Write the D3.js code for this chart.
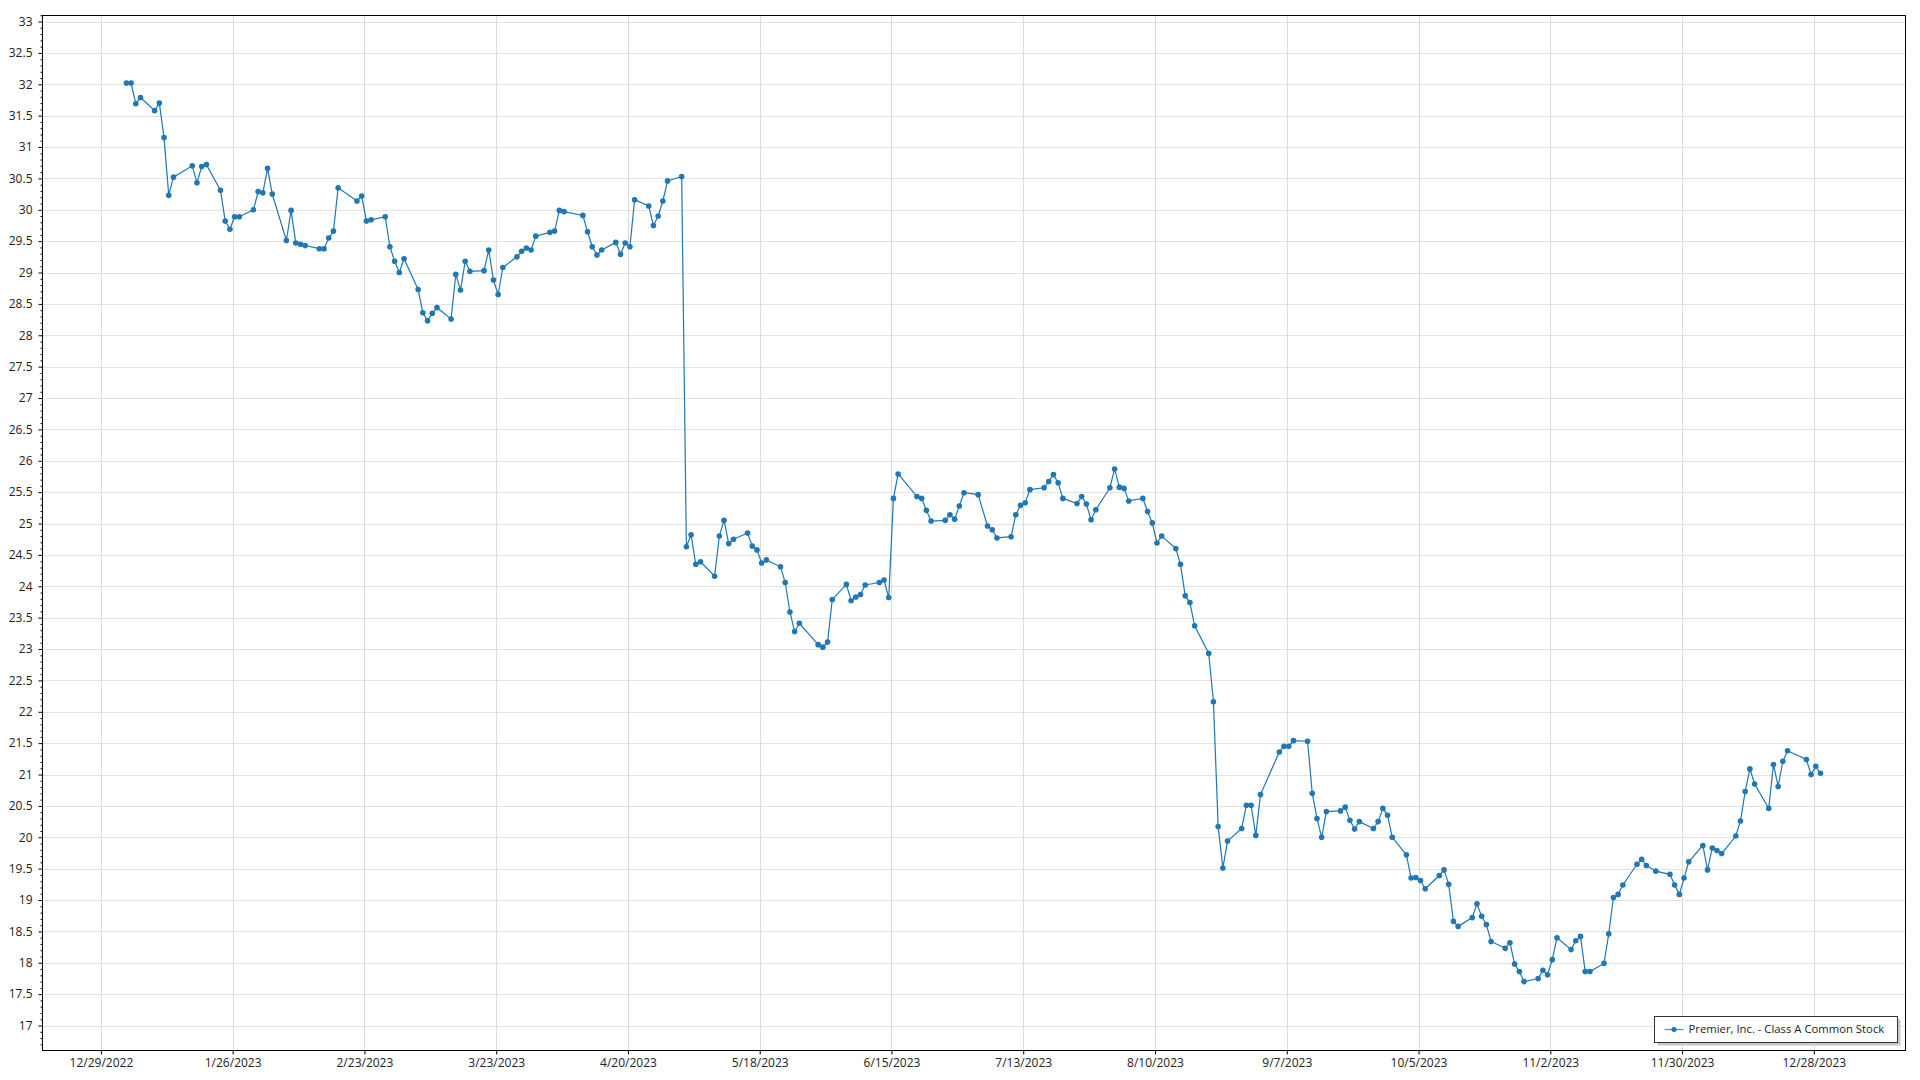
<!DOCTYPE html>
<html>
<head>
<meta charset="utf-8">
<script src="https://cdn.jsdelivr.net/npm/d3@7"></script>
<style>
  html, body { margin: 0; padding: 0; background: #fff; }
  svg { display: block; }
  text { font-family: "Segoe UI", "Open Sans", "Noto Sans", sans-serif; fill: #222; }
</style>
</head>
<body>
<svg id="chart" width="1920" height="1080"></svg>
<script>
// ---- Data ----
const seriesName = "Premier, Inc. - Class A Common Stock";

const dates = [
  "2023-01-03","2023-01-04","2023-01-05","2023-01-06","2023-01-09","2023-01-10","2023-01-11","2023-01-12","2023-01-13",
  "2023-01-17","2023-01-18","2023-01-19","2023-01-20","2023-01-23","2023-01-24","2023-01-25","2023-01-26","2023-01-27",
  "2023-01-30","2023-01-31","2023-02-01","2023-02-02","2023-02-03","2023-02-06","2023-02-07","2023-02-08","2023-02-09",
  "2023-02-10","2023-02-13","2023-02-14","2023-02-15","2023-02-16","2023-02-17","2023-02-21","2023-02-22","2023-02-23",
  "2023-02-24","2023-02-27","2023-02-28","2023-03-01","2023-03-02","2023-03-03","2023-03-06","2023-03-07","2023-03-08",
  "2023-03-09","2023-03-10","2023-03-13","2023-03-14","2023-03-15","2023-03-16","2023-03-17","2023-03-20","2023-03-21",
  "2023-03-22","2023-03-23","2023-03-24","2023-03-27","2023-03-28","2023-03-29","2023-03-30","2023-03-31","2023-04-03",
  "2023-04-04","2023-04-05","2023-04-06","2023-04-10","2023-04-11","2023-04-12","2023-04-13","2023-04-14","2023-04-17",
  "2023-04-18","2023-04-19","2023-04-20","2023-04-21","2023-04-24","2023-04-25","2023-04-26","2023-04-27","2023-04-28",
  "2023-05-01","2023-05-02","2023-05-03","2023-05-04","2023-05-05","2023-05-08","2023-05-09","2023-05-10","2023-05-11",
  "2023-05-12","2023-05-15","2023-05-16","2023-05-17","2023-05-18","2023-05-19","2023-05-22","2023-05-23","2023-05-24",
  "2023-05-25","2023-05-26","2023-05-30","2023-05-31","2023-06-01","2023-06-02","2023-06-05","2023-06-06","2023-06-07",
  "2023-06-08","2023-06-09","2023-06-12","2023-06-13","2023-06-14","2023-06-15","2023-06-16","2023-06-20","2023-06-21",
  "2023-06-22","2023-06-23","2023-06-26","2023-06-27","2023-06-28","2023-06-29","2023-06-30","2023-07-03","2023-07-05",
  "2023-07-06","2023-07-07","2023-07-10","2023-07-11","2023-07-12","2023-07-13","2023-07-14","2023-07-17","2023-07-18",
  "2023-07-19","2023-07-20","2023-07-21","2023-07-24","2023-07-25","2023-07-26","2023-07-27","2023-07-28","2023-07-31",
  "2023-08-01","2023-08-02","2023-08-03","2023-08-04","2023-08-07","2023-08-08","2023-08-09","2023-08-10","2023-08-11",
  "2023-08-14","2023-08-15","2023-08-16","2023-08-17","2023-08-18","2023-08-21","2023-08-22","2023-08-23","2023-08-24",
  "2023-08-25","2023-08-28","2023-08-29","2023-08-30","2023-08-31","2023-09-01","2023-09-05","2023-09-06","2023-09-07",
  "2023-09-08","2023-09-11","2023-09-12","2023-09-13","2023-09-14","2023-09-15","2023-09-18","2023-09-19","2023-09-20",
  "2023-09-21","2023-09-22","2023-09-25","2023-09-26","2023-09-27","2023-09-28","2023-09-29","2023-10-02","2023-10-03",
  "2023-10-04","2023-10-05","2023-10-06","2023-10-09","2023-10-10","2023-10-11","2023-10-12","2023-10-13","2023-10-16",
  "2023-10-17","2023-10-18","2023-10-19","2023-10-20","2023-10-23","2023-10-24","2023-10-25","2023-10-26","2023-10-27",
  "2023-10-30","2023-10-31","2023-11-01","2023-11-02","2023-11-03","2023-11-06","2023-11-07","2023-11-08","2023-11-09",
  "2023-11-10","2023-11-13","2023-11-14","2023-11-15","2023-11-16","2023-11-17","2023-11-20","2023-11-21","2023-11-22",
  "2023-11-24","2023-11-27","2023-11-28","2023-11-29","2023-11-30","2023-12-01","2023-12-04","2023-12-05","2023-12-06",
  "2023-12-07","2023-12-08","2023-12-11","2023-12-12","2023-12-13","2023-12-14","2023-12-15","2023-12-18","2023-12-19",
  "2023-12-20","2023-12-21","2023-12-22","2023-12-26","2023-12-27","2023-12-28","2023-12-29"
];

const prices = [
  32.02,32.02,31.69,31.79,31.58,31.70,31.15,30.23,30.52,
  30.70,30.43,30.69,30.72,30.31,29.82,29.69,29.89,29.89,
  30.00,30.29,30.27,30.66,30.25,29.51,29.99,29.47,29.45,
  29.43,29.38,29.38,29.55,29.66,30.35,30.14,30.22,29.82,
  29.84,29.89,29.41,29.18,29.00,29.22,28.73,28.36,28.23,
  28.35,28.44,28.26,28.97,28.72,29.18,29.02,29.03,29.36,
  28.88,28.65,29.08,29.25,29.34,29.39,29.36,29.58,29.64,
  29.66,29.99,29.97,29.91,29.65,29.41,29.28,29.36,29.48,
  29.29,29.47,29.41,30.16,30.06,29.75,29.90,30.14,30.46,
  30.53,24.63,24.82,24.35,24.39,24.16,24.80,25.05,24.68,
  24.75,24.85,24.64,24.58,24.37,24.42,24.31,24.06,23.59,
  23.28,23.41,23.07,23.03,23.11,23.79,24.03,23.77,23.83,
  23.87,24.02,24.06,24.10,23.82,25.40,25.79,25.43,25.40,
  25.21,25.04,25.05,25.14,25.07,25.28,25.49,25.46,24.96,
  24.90,24.77,24.79,25.14,25.29,25.33,25.54,25.57,25.67,
  25.78,25.65,25.40,25.32,25.43,25.31,25.06,25.22,25.57,
  25.87,25.58,25.56,25.36,25.40,25.19,25.01,24.69,24.80,
  24.60,24.35,23.85,23.74,23.37,22.93,22.16,20.17,19.51,
  19.94,20.14,20.51,20.51,20.03,20.68,21.36,21.45,21.45,
  21.54,21.53,20.70,20.30,20.00,20.41,20.42,20.48,20.27,
  20.13,20.25,20.14,20.25,20.46,20.35,20.00,19.72,19.35,
  19.36,19.31,19.18,19.39,19.48,19.25,18.66,18.58,18.72,
  18.94,18.74,18.61,18.34,18.23,18.32,17.98,17.86,17.70,
  17.75,17.88,17.81,18.05,18.40,18.21,18.35,18.42,17.86,
  17.86,17.99,18.46,19.04,19.09,19.24,19.57,19.65,19.55,
  19.46,19.41,19.24,19.09,19.35,19.61,19.87,19.48,19.83,
  19.79,19.74,20.02,20.26,20.73,21.09,20.85,20.46,21.16,
  20.81,21.21,21.38,21.24,21.00,21.13,21.02
];

const xTickDates = [
  "2022-12-29","2023-01-26","2023-02-23","2023-03-23","2023-04-20","2023-05-18","2023-06-15",
  "2023-07-13","2023-08-10","2023-09-07","2023-10-05","2023-11-02","2023-11-30","2023-12-28"
];
const yMajorTicks = d3.range(17, 33.001, 0.5).map(v => +v.toFixed(1));
const yMinorTicks = d3.range(16.7, 33.101, 0.1).map(v => +v.toFixed(1));

// ---- Layout ----
const W = 1920, H = 1080;
const plot = { left: 42.5, top: 15.5, right: 1905.5, bottom: 1050.5 };
const color = "#1f77b4";

const parse = d3.utcParse("%Y-%m-%d");
const fmt = d3.utcFormat("%-m/%-d/%Y");
const points = dates.map((d, i) => ({ date: d3.utcHour.offset(parse(d), 10), value: prices[i] }));

const origin = parse("2022-12-29");
const x = d3.scaleUtc()
  .domain([d3.utcMinute.offset(origin, Math.round(-12.41 * 1440)), d3.utcMinute.offset(origin, Math.round(383.48 * 1440))])
  .range([plot.left, plot.right]);
const y = d3.scaleLinear().domain([16.602, 33.096]).range([plot.bottom, plot.top]);

const svg = d3.select("#chart");
svg.append("rect").attr("width", W).attr("height", H).attr("fill", "#fff");

const grid = svg.append("g");
// horizontal gridlines
grid.selectAll("line.h").data(yMajorTicks).join("line")
  .attr("x1", plot.left).attr("x2", plot.right)
  .attr("y1", d => Math.round(y(d)) + 0.5).attr("y2", d => Math.round(y(d)) + 0.5)
  .attr("stroke", "#e3e3e3").attr("stroke-width", 1);
// vertical gridlines
const xTicks = xTickDates.map(parse);
grid.selectAll("line.v").data(xTicks).join("line")
  .attr("y1", plot.top).attr("y2", plot.bottom)
  .attr("x1", d => Math.round(x(d)) + 0.5).attr("x2", d => Math.round(x(d)) + 0.5)
  .attr("stroke", "#dcdcdc").attr("stroke-width", 1);

// Y axis
const yAxis = d3.axisLeft(y).tickValues(yMajorTicks).tickSize(4).tickPadding(6)
  .tickFormat(d => String(d));
const gy = svg.append("g").attr("transform", `translate(${plot.left},0)`).call(yAxis);
gy.select(".domain").remove();
gy.selectAll(".tick line").attr("stroke", "#000");
gy.selectAll(".tick text").style("font-size", "12px").attr("fill", "#222");
const yMinor = d3.axisLeft(y).tickValues(yMinorTicks.filter(v => Math.abs(v * 2 - Math.round(v * 2)) > 1e-6)).tickSize(2).tickFormat("");
const gym = svg.append("g").attr("transform", `translate(${plot.left},0)`).call(yMinor);
gym.select(".domain").remove();
gym.selectAll(".tick line").attr("stroke", "#000");

// X axis
const xAxis = d3.axisBottom(x).tickValues(xTicks).tickSize(4).tickPadding(4).tickFormat(fmt);
const gx = svg.append("g").attr("transform", `translate(0,${plot.bottom})`).call(xAxis);
gx.select(".domain").remove();
gx.selectAll(".tick line").attr("stroke", "#000");
gx.selectAll(".tick text").style("font-size", "12px").attr("fill", "#222");

// frame
svg.append("rect")
  .attr("x", plot.left).attr("y", plot.top)
  .attr("width", plot.right - plot.left).attr("height", plot.bottom - plot.top)
  .attr("fill", "none").attr("stroke", "#000").attr("stroke-width", 1);

// series
const line = d3.line().x(d => x(d.date)).y(d => y(d.value));
svg.append("path").datum(points)
  .attr("d", line).attr("fill", "none").attr("stroke", color).attr("stroke-width", 1.2);
svg.append("g").selectAll("circle").data(points).join("circle")
  .attr("cx", d => x(d.date)).attr("cy", d => y(d.value)).attr("r", 2.8).attr("fill", color);

// legend
const lg = svg.append("g");
const lx = 1654.5, ly = 1016.5, lw = 243, lh = 26;
lg.append("rect").attr("x", lx + 3).attr("y", ly + 3).attr("width", lw).attr("height", lh).attr("fill", "#c8c8c8");
lg.append("rect").attr("x", lx).attr("y", ly).attr("width", lw).attr("height", lh)
  .attr("fill", "#fff").attr("stroke", "#333").attr("stroke-width", 1);
lg.append("line").attr("x1", lx + 10).attr("x2", lx + 29).attr("y1", ly + 13).attr("y2", ly + 13)
  .attr("stroke", color).attr("stroke-width", 1.2).attr("opacity", 0.8);
lg.append("circle").attr("cx", lx + 19.5).attr("cy", ly + 13).attr("r", 2.5).attr("fill", color);
lg.append("text").attr("x", lx + 34).attr("y", ly + 13).attr("dy", "0.35em")
  .style("font-size", "11.3px").text(seriesName);
</script>
</body>
</html>
